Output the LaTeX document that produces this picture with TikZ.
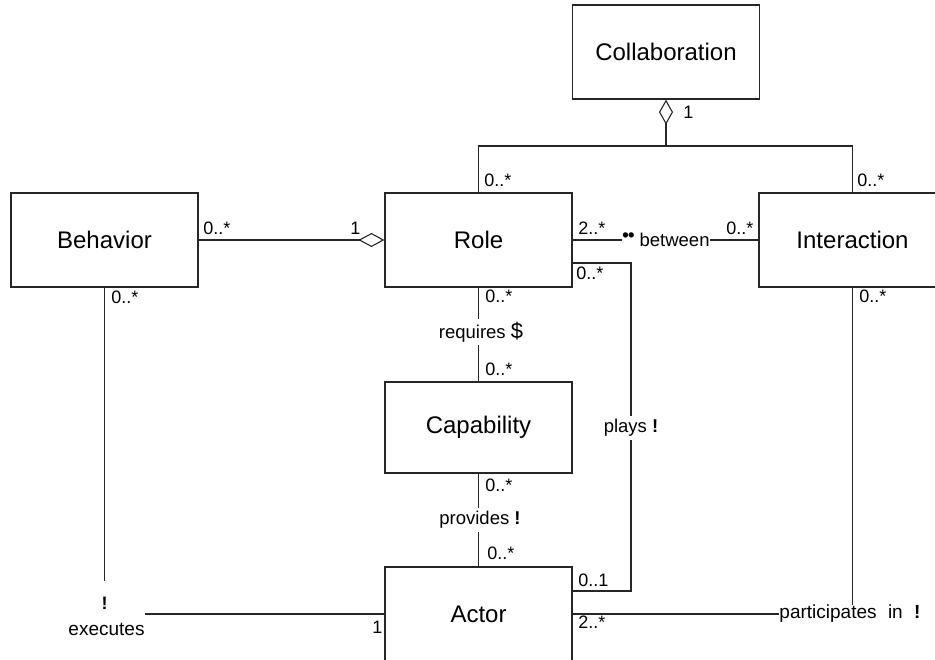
\documentclass[tikz,border=0pt]{standalone}
\usepackage{fontspec}
\setmainfont{Liberation Sans}
\usetikzlibrary{arrows.meta}
\definecolor{umlLine}{HTML}{262626}

\begin{document}
\begin{tikzpicture}[
  x=0.5pt, y=-0.5pt, font=\fontsize{9}{11}\selectfont,
  cls/.style   ={draw=umlLine, line width=0.6pt, minimum width=93.5pt, minimum height=47pt,
                 inner sep=0pt, font=\fontsize{12}{14}\selectfont},
  mult/.style  ={anchor=west, inner sep=0pt},
  assoc/.style ={inner sep=1.5pt, font=\fontsize{9.25}{11}\selectfont},
  conn/.style  ={draw=umlLine, line width=0.55pt},
  agg/.style   ={arrows={Diamond[open, length=12.5pt, width=7pt]-}},
  aggend/.style={arrows={-Diamond[open, length=13pt, width=7pt]}}]
  \useasboundingbox (0,0) rectangle (935,659);
  % classes
  \node[cls] (collab) at (666,52)    {Collaboration};
  \node[cls] (behav)  at (104.5,240) {Behavior};
  \node[cls] (role)   at (478.5,240) {Role};
  \node[cls] (inter)  at (852.5,240) {Interaction};
  \node[cls, line width=1.1pt, minimum height=45.5pt] (capab) at (478.5,427.5) {Capability};
  \node[cls] (actor)  at (478.5,614) {Actor};
  % association names
  \node[inner sep=0pt, font=\fontsize{9.25}{11}\selectfont] (betw) at (666,240)
    {\raisebox{0.55ex}{\textbf{•\kern-0.05em•}}\ between};
  \node[assoc] (req)   at (481,332) {requires {\fontsize{11}{11}\selectfont\$}};
  \node[assoc] (prov)  at (480,520) {provides \textbf{!}};
  \node[assoc] (plays) at (631,428) {plays \textbf{!}};
  \node[inner sep=0pt, inner ysep=7.5pt] (excl) at (104.5,603) {\textbf{!}};
  \node[inner sep=0pt, font=\fontsize{9.5}{11}\selectfont] (exec) at (106.5,629) {executes};
  \node[inner sep=0pt, font=\fontsize{9.5}{11}\selectfont] (part) at (850,614)
    {participates\hspace{0.6em}in\hspace{0.6em}\textbf{!}};
  % connectors
  \coordinate (jn) at (666,146);
  \draw[conn, agg] (collab.south) -- (jn);
  \draw[conn] (role.north) |- (jn) -| (inter.north);
  \draw[conn, aggend] (behav.east) -- (role.west);
  \draw[conn] (role.east) -- (betw.west);
  \draw[conn] (betw.east) -- (inter.west);
  \draw[conn] (role.south) -- (role.south|-req.north);
  \draw[conn] (capab.north|-req.south) -- (capab.north);
  \draw[conn] (capab.south) -- (capab.south|-prov.north);
  \draw[conn] (actor.north|-prov.south) -- (actor.north);
  \draw[conn] ([yshift=-11.5pt]role.east) -| (plays.north);
  \draw[conn] (plays.south) |- ([yshift=11.5pt]actor.east);
  \draw[conn] (behav.south) -- (excl.north);
  \draw[conn] (actor.west) -- (actor.west-|exec.east);
  \draw[conn] (actor.east) -- (part.west);
  \draw[conn] (inter.south) -- (inter.south|-part.north);
  % multiplicities
  \node[mult] (mColl)   at (683,112) {1};
  \node[mult] (mRoleT)  at (484,180) {0..*};
  \node[mult] (mInterT) at (857,180) {0..*};
  \node[mult] (mBehR)   at (203,228) {0..*};
  \node[mult] (mRoleL)  at (350,228) {1};
  \node[mult] (mRoleR)  at (578,228) {2..*};
  \node[mult] (mInterL) at (726,228) {0..*};
  \node[mult] (mPlayR)  at (576,273) {0..*};
  \node[mult] (mBehB)   at (111,297) {0..*};
  \node[mult] (mRoleB)  at (485,296) {0..*};
  \node[mult] (mInterB) at (859,296) {0..*};
  \node[mult] (mCapT)   at (485,369) {0..*};
  \node[mult] (mCapB)   at (485,485) {0..*};
  \node[mult] (mActT)   at (487,553) {0..*};
  \node[mult] (mActP)   at (578,580) {0..1};
  \node[mult] (mActI)   at (578,622) {2..*};
  \node[mult] (mActE)   at (372,627) {1};
\end{tikzpicture}
\end{document}
